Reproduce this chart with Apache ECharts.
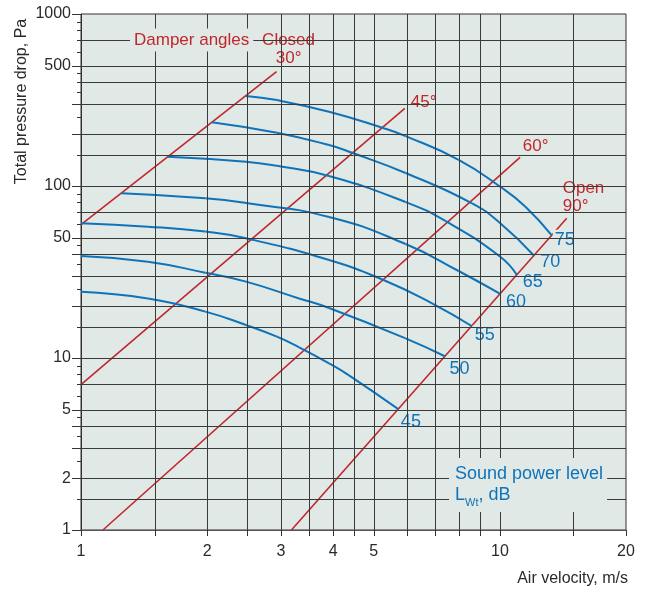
<!DOCTYPE html>
<html>
<head>
<meta charset="utf-8">
<script src="https://cdn.jsdelivr.net/npm/echarts@6/dist/echarts.min.js"></script>
<style>html,body{margin:0;padding:0;background:#fff}#c{width:648px;height:592px}</style>
</head>
<body>
<div id="c"></div>
<script>
// ---- data ----
const velocityTicks = [1, 1.5, 2, 2.5, 3, 3.5, 4, 4.5, 5, 6, 7, 8, 9, 10, 15, 20];
const velocityLabels = [1, 2, 3, 4, 5, 10, 20];
const velocityGridLines = [1.5, 2, 2.5, 3, 3.5, 4, 4.5, 5, 6, 7, 8, 9, 10, 15];
const pressureLabels = [1, 2, 5, 10, 50, 100, 500, 1000];
const pressureLongTicks = [1, 2, 3, 4, 5, 10, 20, 30, 40, 50, 100, 200, 300, 500, 1000];
const pressureShortTicks = [1.5, 2.5, 3.5, 4.5, 6, 7, 8, 9, 15, 25, 35, 45, 60, 70, 80, 90, 150, 250, 350, 400, 450, 600, 700, 800, 900];
const pressureGridLines = [1.5, 2, 3, 4, 5, 7, 10, 15, 20, 30, 40, 50, 70, 100, 150, 200, 300, 400, 500, 700];

const damperNames = ['Closed\n30°', '45°', '60°', 'Open\n90°'];
const damper30 = [[1, 59.7], [2.93, 462]];
const damper45 = [[1, 7.0], [5.93, 283]];
const damper60 = [[1.128, 1], [11.22, 148]];
const damper90 = [[3.18, 1], [14.44, 64.9]];

const soundLevels = ['75', '70', '65', '60', '55', '50', '45'];
const lw75 = [[2.476, 334], [2.935, 316], [3.91, 270], [5.24, 218], [5.955, 195], [7.97, 142], [10.02, 99], [11.49, 76], [13.3, 51.6]];
const lw70 = [[2.051, 235], [2.935, 204], [3.91, 173], [4.44, 156], [5.955, 119], [8.58, 79.3], [10.02, 60.7], [12.07, 39.3]];
const lw65 = [[1.611, 148], [2.476, 138.5], [2.935, 131], [3.91, 114.3], [5.955, 80.7], [7.41, 62.6], [10.02, 38.8], [10.98, 30.4]];
const lw60 = [[1.248, 90.7], [1.981, 84.8], [2.476, 79.6], [3.91, 66.05], [5.955, 46.0], [7.97, 32.05], [10.02, 23.6]];
const lw55 = [[1, 60.7], [1.444, 58], [1.981, 54.3], [2.476, 49.7], [3.91, 37.1], [5.24, 28.6], [6.887, 20.8], [8.58, 15.3]];
const lw50 = [[1, 39.2], [1.444, 36.3], [1.981, 31.3], [2.476, 27.8], [3.316, 22.2], [3.91, 19.53], [5.955, 13.0], [7.41, 10.2]];
const lw45 = [[1, 24.3], [1.444, 22.2], [1.981, 18.6], [2.476, 15.56], [2.935, 13.3], [3.316, 11.54], [3.91, 9.31], [4.363, 7.93], [5.72, 5.04]];

// ---- styling ----
const FONT = '"Liberation Sans", Arial, Helvetica, sans-serif';
const BG = '#e0e9e6';
const RED = '#c1272d';
const BLUE = '#0f73ba';
const GRID = '#3a3a3a';
const TXT = '#2a2a2a';
const SMOOTH = 0.5;

const damperLines = [damper30, damper45, damper60, damper90];
const damperLabelLayout = [
  { align: 'center', offset: [12, -22.5] },
  { align: 'left', offset: [3, -6] },
  { align: 'left', offset: [-1, -10] },
  { align: 'left', offset: [-7, -21] }
];
const soundCurves = [lw75, lw70, lw65, lw60, lw55, lw50, lw45];
const soundLabelOffsets = [[1, 4.3], [4.2, 5.8], [3.9, 6.7], [3.8, 8.5], [0.6, 9.1], [2.2, 12.5], [0.6, 13.2]];

const fmt = v => String(Math.round(v * 100) / 100);

// control points of a smooth path through projected points (no clamping)
function ctrlPoints(pts, k) {
  const n = pts.length;
  const out = [], inn = [];
  for (let j = 0; j < n; j++) {
    const b = pts[j];
    if (j === 0 || j === n - 1) { out.push(null); inn.push(null); continue; }
    const a = pts[j - 1], c = pts[j + 1];
    const tx = c[0] - a[0], ty = c[1] - a[1];
    const l0 = Math.hypot(b[0] - a[0], b[1] - a[1]);
    const l1 = Math.hypot(c[0] - b[0], c[1] - b[1]);
    const r1 = l1 / (l0 + l1), r0 = l0 / (l0 + l1);
    out.push([b[0] + tx * k * r1, b[1] + ty * k * r1]);
    inn.push([b[0] - tx * k * r0, b[1] - ty * k * r0]);
  }
  if (n > 2) {
    out[0] = [(pts[0][0] + inn[1][0]) / 2, (pts[0][1] + inn[1][1]) / 2];
    inn[n - 1] = [(pts[n - 1][0] + out[n - 2][0]) / 2, (pts[n - 1][1] + out[n - 2][1]) / 2];
  } else {
    out[0] = pts[0]; inn[n - 1] = pts[n - 1];
  }
  return { out, inn };
}

function curveSeries(data, label, off) {
  return {
    type: 'custom', name: label, data: data, z: 4, silent: true,
    encode: { x: 0, y: 1 },
    renderItem: function (params, api) {
      const i = params.dataIndexInside;
      const n = params.dataInsideLength;
      const pts = [];
      for (let j = 0; j < n; j++) pts.push(api.coord([api.value(0, j), api.value(1, j)]));
      if (i < n - 1) {
        const cp = ctrlPoints(pts, SMOOTH);
        return {
          type: 'bezierCurve',
          shape: {
            x1: pts[i][0], y1: pts[i][1], x2: pts[i + 1][0], y2: pts[i + 1][1],
            cpx1: cp.out[i][0], cpy1: cp.out[i][1], cpx2: cp.inn[i + 1][0], cpy2: cp.inn[i + 1][1]
          },
          style: { stroke: BLUE, lineWidth: 2, fill: null }
        };
      }
      const p = pts[i];
      return {
        type: 'text', x: p[0] + off[0], y: p[1] + off[1], z2: 20,
        style: {
          text: label, fill: BLUE, fontSize: 18, fontFamily: FONT,
          align: 'left', verticalAlign: 'middle', backgroundColor: BG, padding: [1, 2]
        }
      };
    }
  };
}

const series = [];
series.push({
  type: 'line', data: [], silent: true, z: 1,
  markLine: {
    silent: true, symbol: ['none', 'none'], animation: false,
    label: { show: false },
    emphasis: { disabled: true },
    lineStyle: { color: GRID, width: 1, type: 'solid' },
    data: velocityGridLines.map(v => ({ xAxis: v })).concat(pressureGridLines.map(v => ({ yAxis: v })))
  }
});
damperLines.forEach((d, i) => {
  series.push({
    name: damperNames[i], type: 'line', data: d, symbol: 'none', z: 3,
    lineStyle: { color: RED, width: 1.6 },
    emphasis: { disabled: true },
    endLabel: {
      show: true, formatter: damperNames[i], distance: 0,
      align: damperLabelLayout[i].align, verticalAlign: 'middle',
      offset: damperLabelLayout[i].offset,
      color: RED, fontSize: 17, lineHeight: 18, fontFamily: FONT,
      backgroundColor: BG, padding: [2, 3]
    }
  });
});
soundCurves.forEach((d, i) => series.push(curveSeries(d, soundLevels[i], soundLabelOffsets[i])));

const option = {
  animation: false,
  backgroundColor: '#ffffff',
  textStyle: { fontFamily: FONT },
  grid: { left: 81, right: 22, top: 14, bottom: 62, show: true, backgroundColor: BG, borderColor: '#333', borderWidth: 1 },
  xAxis: [{
    type: 'log', logBase: 10, min: 1, max: 20,
    axisLine: { show: true, lineStyle: { color: '#555', width: 1 } },
    axisTick: { show: true, customValues: velocityTicks, length: 6, lineStyle: { color: '#333' } },
    axisLabel: { show: true, customValues: velocityLabels, formatter: fmt, fontSize: 16, color: TXT, margin: 14, fontFamily: FONT },
    splitLine: { show: false }, minorTick: { show: false }, minorSplitLine: { show: false }
  }],
  yAxis: [{
    type: 'log', logBase: 10, min: 1, max: 1000,
    axisLine: { show: true, lineStyle: { color: '#333', width: 1 } },
    axisTick: { show: true, customValues: pressureLongTicks, length: 9, lineStyle: { color: '#333' } },
    axisLabel: { show: true, customValues: pressureLabels, formatter: fmt, fontSize: 16, color: TXT, margin: 10, fontFamily: FONT },
    splitLine: { show: false }, minorTick: { show: false }, minorSplitLine: { show: false }
  }, {
    type: 'log', logBase: 10, min: 1, max: 1000, position: 'left', offset: 0,
    axisLine: { show: false },
    axisTick: { show: true, customValues: pressureShortTicks, length: 4, lineStyle: { color: '#333' } },
    axisLabel: { show: false },
    splitLine: { show: false }, minorTick: { show: false }, minorSplitLine: { show: false }
  }],
  graphic: [
    {
      type: 'text', x: 21.5, y: 101.5, rotation: Math.PI / 2, z: 10,
      style: { text: 'Total pressure drop, Pa', fontSize: 16, fontFamily: FONT, fill: TXT, align: 'center', verticalAlign: 'middle' }
    },
    {
      type: 'text', x: 628, y: 579, z: 10,
      style: { text: 'Air velocity, m/s', fontSize: 16, fontFamily: FONT, fill: TXT, align: 'right', verticalAlign: 'middle' }
    },
    {
      type: 'text', x: 130, y: 40, z: 10,
      style: { text: 'Damper angles', fontSize: 17, fontFamily: FONT, fill: RED, align: 'left', verticalAlign: 'middle', backgroundColor: BG, padding: [3, 4] }
    },
    {
      type: 'text', x: 449, y: 458, z: 10,
      style: {
        text: '{a|Sound power level}\n{a|L}{s|Wt}{a|, dB}',
        align: 'left', verticalAlign: 'top',
        backgroundColor: BG, padding: [6, 4, 6, 6],
        rich: {
          a: { fontSize: 18, lineHeight: 21, fill: BLUE, fontFamily: FONT },
          s: { fontSize: 11, lineHeight: 10, fill: BLUE, fontFamily: FONT, verticalAlign: 'top', padding: [12, 0, 0, 0] }
        }
      }
    }
  ],
  series: series
};

const chart = echarts.init(document.getElementById('c'), null, { renderer: 'canvas' });
chart.setOption(option);
</script>
</body>
</html>
